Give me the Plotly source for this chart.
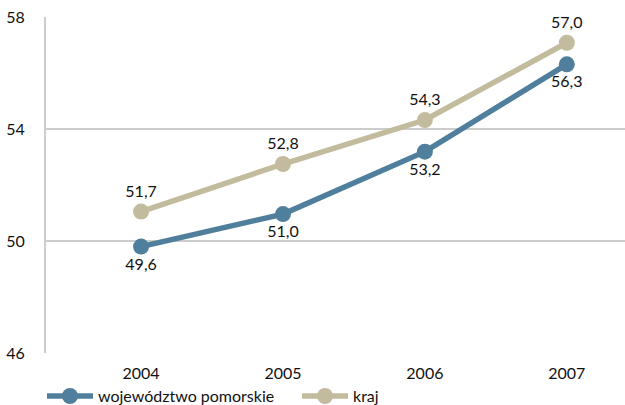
import plotly.graph_objects as go

years = ["2004", "2005", "2006", "2007"]
woj_values = [49.8, 50.96, 53.19, 56.31]
woj_labels = ["49,6", "51,0", "53,2", "56,3"]
kraj_values = [51.05, 52.75, 54.32, 57.08]
kraj_labels = ["51,7", "52,8", "54,3", "57,0"]
y_ticks = [46, 50, 54, 58]

BLUE = "#4f7f9c"
BEIGE = "#c3bb9d"
FONT = "Lato"
TXT = "#111111"
FS = 16

fig = go.Figure()
fig.add_trace(go.Scatter(
    x=years, y=woj_values, mode="lines+markers+text", name="województwo pomorskie",
    line=dict(color=BLUE, width=5.5), marker=dict(color=BLUE, size=16),
    text=woj_labels, textposition="bottom center",
    textfont=dict(family=FONT, size=FS, color=TXT), legend="legend",
))
fig.add_trace(go.Scatter(
    x=years, y=kraj_values, mode="lines+markers+text", name="kraj",
    line=dict(color=BEIGE, width=5.5), marker=dict(color=BEIGE, size=16),
    text=kraj_labels, textposition="top center",
    textfont=dict(family=FONT, size=FS, color=TXT), legend="legend2",
))

leg_common = dict(orientation="h", xref="container", yref="container", xanchor="left",
                  yanchor="middle", y=0.022, itemwidth=46,
                  font=dict(family=FONT, size=FS, color=TXT), bgcolor="rgba(0,0,0,0)")

fig.update_layout(
    width=625, height=405,
    margin=dict(l=46, r=0, t=17, b=52, autoexpand=False),
    paper_bgcolor="white", plot_bgcolor="white",
    font=dict(family=FONT, size=FS, color=TXT),
    showlegend=True,
    legend=dict(x=42 / 625, **leg_common),
    legend2=dict(x=297 / 625, **leg_common),
)
fig.update_xaxes(
    type="category", range=[-0.67, 3.41], showgrid=False, zeroline=False,
    showline=False, ticks="outside", ticklen=6, tickcolor="rgba(0,0,0,0)",
    tickfont=dict(family=FONT, size=FS, color=TXT),
)
fig.update_yaxes(
    range=[46, 58], tickvals=y_ticks, showgrid=True, gridcolor="#cccccc", gridwidth=2,
    zeroline=False, showline=True, linecolor="#cccccc", linewidth=2,
    ticks="", ticklabelstandoff=16,
    tickfont=dict(family=FONT, size=FS, color=TXT),
)

fig.write_html("out.html")
